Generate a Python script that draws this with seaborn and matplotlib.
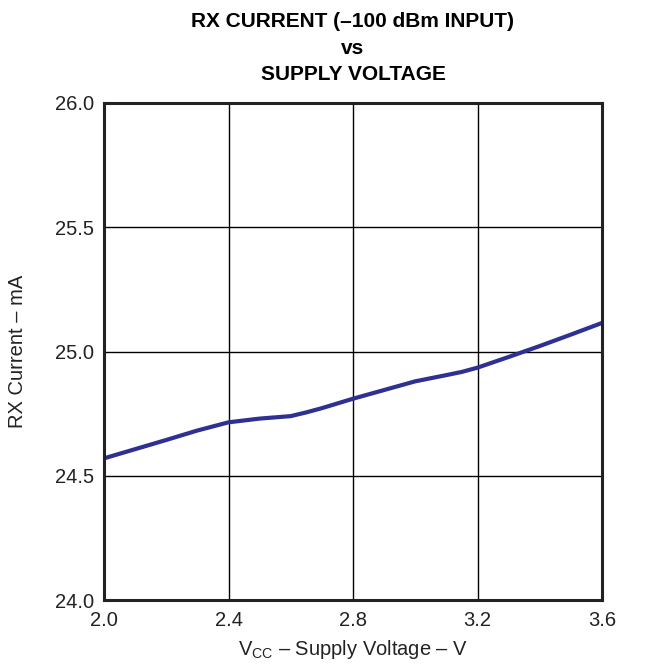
import matplotlib
matplotlib.use('Agg')
import matplotlib.pyplot as plt
import numpy as np
import pandas as pd
import seaborn as sns

# values
supply_voltage = [2.0, 2.1, 2.2, 2.3, 2.4, 2.5, 2.6, 2.65, 2.7, 2.8, 2.9, 3.0, 3.1, 3.15, 3.2, 3.3, 3.35, 3.4, 3.5, 3.6]
rx_current = [24.57, 24.607, 24.644, 24.682, 24.715, 24.73, 24.74, 24.755, 24.772, 24.81, 24.845, 24.88, 24.905, 24.918, 24.935, 24.978, 25.0, 25.022, 25.068, 25.115]

x_ticks = [2.0, 2.4, 2.8, 3.2, 3.6]
y_ticks = [24.0, 24.5, 25.0, 25.5, 26.0]

title_lines = ['RX CURRENT (–100 dBm INPUT)', 'vs', 'SUPPLY VOLTAGE']

sns.set_style('white')
plt.rcParams['font.family'] = ['Liberation Sans', 'DejaVu Sans']
plt.rcParams['mathtext.fontset'] = 'custom'
plt.rcParams['mathtext.rm'] = 'Liberation Sans'
plt.rcParams['mathtext.default'] = 'regular'

df = pd.DataFrame({'vcc': supply_voltage, 'current': rx_current})

fig = plt.figure(figsize=(6.45, 6.65), dpi=100)
ax = fig.add_axes([104 / 645, 1 - 600 / 665, (602 - 104) / 645, (600 - 103) / 665])

sns.lineplot(data=df, x='vcc', y='current', ax=ax, color='#2E3192', linewidth=3)

ax.set_xlim(2.0, 3.6)
ax.set_ylim(24.0, 26.0)
ax.set_xticks(x_ticks)
ax.set_yticks(y_ticks)
ax.set_xticklabels([f'{v:.1f}' for v in x_ticks], fontsize=14.5, color='#222222')
ax.set_yticklabels([f'{v:.1f}' for v in y_ticks], fontsize=14.5, color='#222222')
ax.tick_params(axis='both', length=0)
ax.tick_params(axis='x', pad=8)
ax.tick_params(axis='y', pad=7)
ax.grid(True, color='black', linewidth=1.0)

for spine in ax.spines.values():
    spine.set_visible(True)
    spine.set_color('#222222')
    spine.set_linewidth(2.2)

ax.set_xlabel('$V_{CC}$ – Supply Voltage – V', fontsize=14.5, labelpad=6, color='#222222')
ax.set_ylabel('RX Current – mA', fontsize=14.5, labelpad=20, color='#222222')

title_x = (104 + 602) / 2 / 645
for line, baseline in zip(title_lines, [27, 53.5, 80]):
    fig.text(title_x, 1 - baseline / 665, line, ha='center', va='baseline',
             fontsize=15, fontweight='bold', color='black')

fig.savefig('out.png', dpi=100)
